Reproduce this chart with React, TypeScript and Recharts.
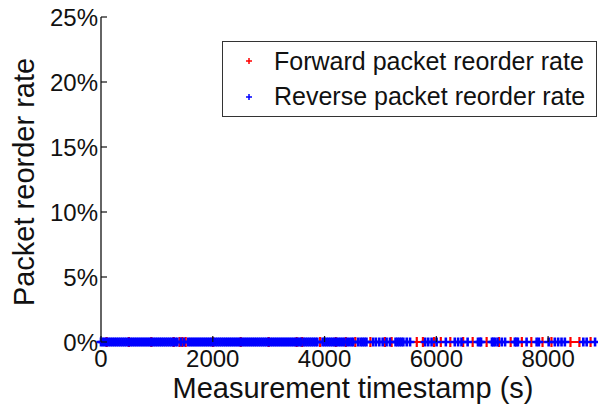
import { ReferenceLine, Scatter, ScatterChart, XAxis, YAxis } from "recharts";

// measurement timestamps (s) where each reorder rate sample was taken
const reverseTimes = [
  0, 35, 70, 105, 140, 175, 210, 245, 280, 315, 350, 385, 420, 455, 490, 525, 560, 595, 630, 665,
  700, 735, 770, 805, 840, 875, 910, 945, 980, 1015, 1050, 1085, 1120, 1155, 1190, 1225, 1260, 1295,
  1330, 1365, 1430, 1485, 1560, 1595, 1630, 1665, 1700, 1735, 1770, 1805, 1840, 1875, 1910, 1945, 1980,
  2015, 2050, 2085, 2120, 2155, 2190, 2225, 2260, 2295, 2330, 2365, 2400, 2435, 2470, 2505, 2540, 2575,
  2610, 2645, 2680, 2715, 2750, 2785, 2820, 2855, 2890, 2925, 2960, 2995, 3030, 3065, 3100, 3135, 3170,
  3205, 3240, 3275, 3310, 3345, 3380, 3415, 3450, 3485, 3520, 3555, 3580, 3625, 3660, 3695, 3730, 3765,
  3800, 3835, 3870, 3965, 4000, 4035, 4070, 4105, 4140, 4175, 4210, 4245, 4280, 4315, 4350, 4400, 4440,
  4480, 4510, 4600, 4645, 4680, 4715, 4750, 4870, 4920, 4980, 5040, 5110, 5170, 5270, 5305, 5340, 5375,
  5410, 5470, 5530, 5800, 5855, 5915, 6005, 6170, 6330, 6390, 6450, 6560, 6745, 6780, 6800, 6995, 7020,
  7050, 7095, 7170, 7230, 7405, 7430, 7460, 7615, 7795, 7835, 8010, 8120, 8180, 8240, 8300, 8630, 8690,
  8840
];
const reverseRates = reverseTimes.map(() => 0);

const forwardTimes = [
  100, 500, 900, 1300, 1405, 1455, 1515, 2000, 2500, 3000, 3500, 3600, 3920, 4200, 4380, 4550, 4820,
  5080, 5200, 5650, 5760, 5960, 6080, 6250, 6480, 6650, 6900, 7120, 7330, 7530, 7700, 7900, 8060,
  8400, 8560, 8760
];
const forwardRates = forwardTimes.map(() => 0);

const xTicks = [0, 2000, 4000, 6000, 8000];
const yTicks = [0, 0.05, 0.1, 0.15, 0.2, 0.25];

const forwardData = forwardTimes.map((t, i) => ({ t, rate: forwardRates[i] }));
const reverseData = reverseTimes.map((t, i) => ({ t, rate: reverseRates[i] }));

const font = '"Liberation Sans", Arial, sans-serif';
const ink = "#111";

function plus(color: string, half: number, width: number) {
  return (props: any) => {
    const { cx, cy } = props;
    return (
      <path
        d={`M${cx - half},${cy}H${cx + half}M${cx},${cy - half}V${cy + half}`}
        stroke={color}
        strokeWidth={width}
        fill="none"
      />
    );
  };
}

function YTick({ x, y, payload }: any) {
  return (
    <g>
      <line x1={x} x2={x + 6} y1={y} y2={y} stroke={ink} strokeWidth={1.2} />
      <text x={x - 3} y={y + 9} textAnchor="end" fontSize={24} fontFamily={font} fill={ink}>
        {Math.round(payload.value * 100)}%
      </text>
    </g>
  );
}

function XTick({ x, y, payload }: any) {
  return (
    <g>
      <line x1={x} x2={x} y1={y} y2={y - 6} stroke={ink} strokeWidth={1.2} />
      <text x={x} y={y + 25} textAnchor="middle" fontSize={24} fontFamily={font} fill={ink}>
        {payload.value}
      </text>
    </g>
  );
}

function TopTick({ x, y }: any) {
  return <line x1={x} x2={x} y1={y} y2={y + 6} stroke={ink} strokeWidth={1.2} />;
}

function LegendBox() {
  return (
    <svg width={376} height={77} style={{ display: "block" }}>
      <rect x={0.5} y={0.5} width={374} height={75} fill="#fff" stroke="#333" strokeWidth={1} />
      <path d="M24,20H30M27,17V23" stroke="#ff0000" strokeWidth={1.5} />
      <path d="M24,56H30M27,53V59" stroke="#0000ff" strokeWidth={1.5} />
      <text x={52} y={29} fontSize={25} fontFamily={font} fill={ink}>
        Forward packet reorder rate
      </text>
      <text x={52} y={64} fontSize={25} fontFamily={font} fill={ink}>
        Reverse packet reorder rate
      </text>
    </svg>
  );
}

export default function App() {
  return (
    <div style={{ position: "absolute", left: 0, top: 0, width: 598, height: 405, overflow: "hidden", background: "#fff" }}>
      <ScatterChart width={605} height={405} margin={{ top: 17, right: 1, bottom: 0, left: 0 }}>
        <XAxis
          xAxisId="top"
          orientation="top"
          type="number"
          dataKey="t"
          domain={[0, 9000]}
          ticks={xTicks}
          height={0}
          tickSize={0}
          tickMargin={0}
          tickLine={false}
          tick={<TopTick />}
          axisLine={{ stroke: ink, strokeWidth: 1.3 }}
        />
        <XAxis
          type="number"
          dataKey="t"
          domain={[0, 9000]}
          ticks={xTicks}
          height={63}
          tickSize={0}
          tickMargin={0}
          tickLine={false}
          tick={<XTick />}
          axisLine={{ stroke: ink, strokeWidth: 1.3 }}
          label={{
            content: () => (
              <text x={353} y={398} textAnchor="middle" fontSize={29} fontFamily={font} fill={ink}>
                Measurement timestamp (s)
              </text>
            )
          }}
        />
        <YAxis
          type="number"
          dataKey="rate"
          domain={[0, 0.25]}
          ticks={yTicks}
          width={101}
          tickSize={0}
          tickMargin={0}
          tickLine={false}
          tick={<YTick />}
          axisLine={{ stroke: ink, strokeWidth: 1.3 }}
          label={{
            content: () => (
              <text
                x={34}
                y={182}
                transform="rotate(-90, 34, 182)"
                textAnchor="middle"
                fontSize={29}
                fontFamily={font}
                fill={ink}
              >
                Packet reorder rate
              </text>
            )
          }}
        />
        <ReferenceLine y={0} stroke={ink} strokeWidth={1.3} />
        <Scatter
          name="Forward packet reorder rate"
          data={forwardData}
          shape={plus("#ff0000", 5, 2.2)}
          isAnimationActive={false}
        />
        <Scatter
          name="Reverse packet reorder rate"
          data={reverseData}
          shape={plus("#0000ff", 4.5, 2.6)}
          isAnimationActive={false}
        />
      </ScatterChart>
      <div style={{ position: "absolute", left: 222, top: 41 }}>
        <LegendBox />
      </div>
    </div>
  );
}
